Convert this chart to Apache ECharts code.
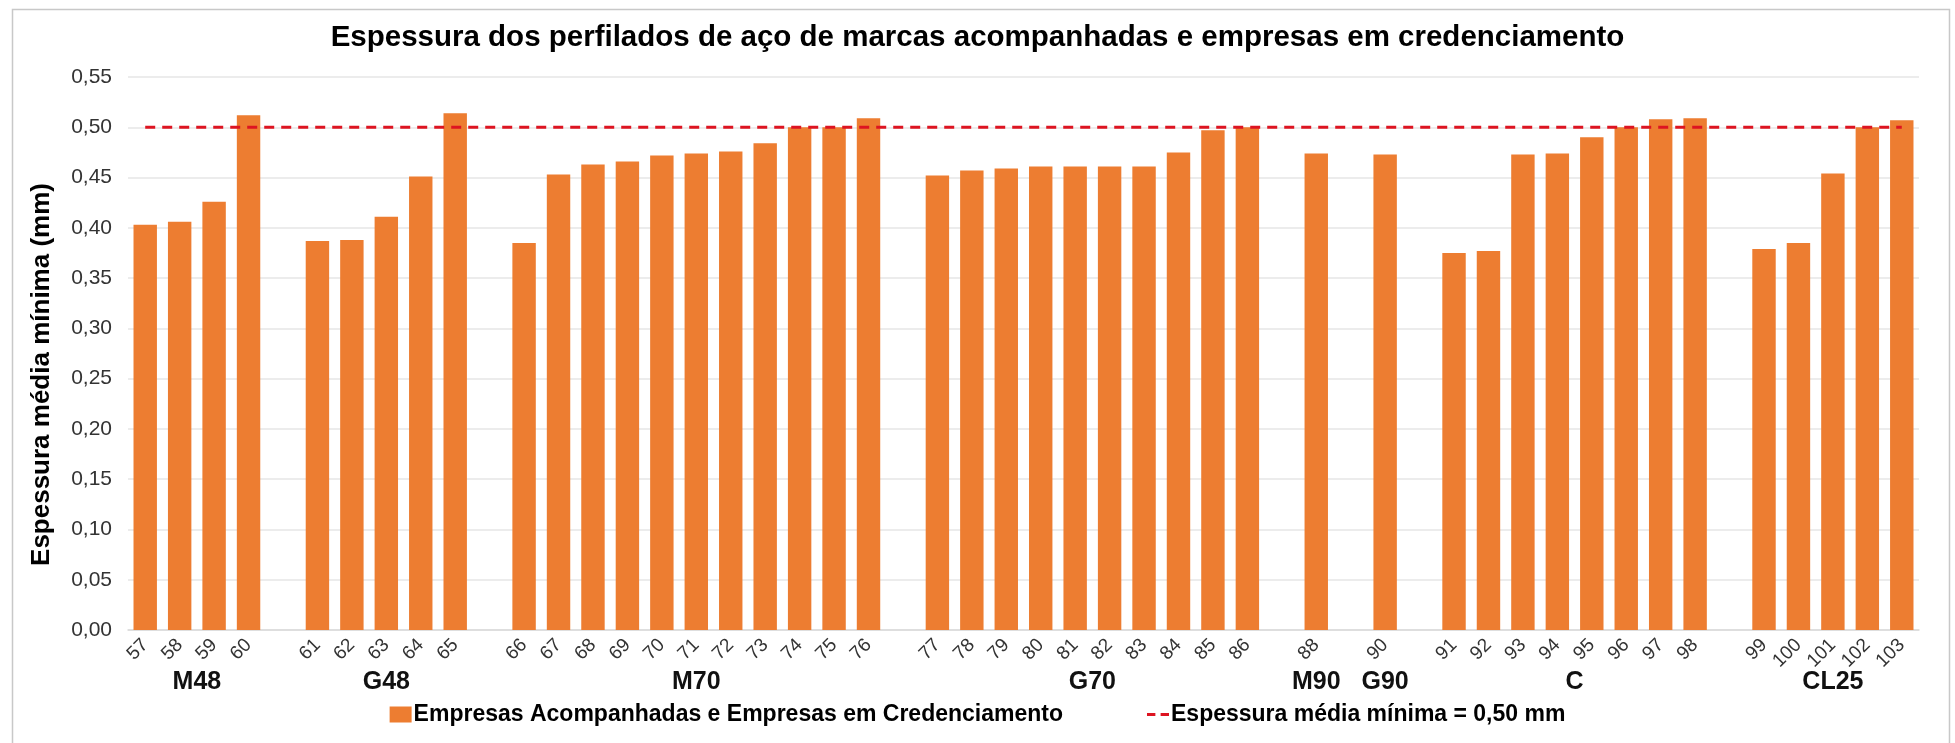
<!DOCTYPE html>
<html>
<head>
<meta charset="utf-8">
<script src="https://cdn.jsdelivr.net/npm/echarts@6/dist/echarts.min.js"></script>
<style>
html,body{margin:0;padding:0;background:#fff;}
#chart{width:1955px;height:743px;}
</style>
</head>
<body>
<div id="chart"></div>
<script>
// ---- Data ----
const titleText = 'Espessura dos perfilados de aço de marcas acompanhadas e empresas em credenciamento';
const groupNames = ['M48', 'G48', 'M70', 'G70', 'M90', 'G90', 'C', 'CL25'];
const sampleIds = [
  ['57', '58', '59', '60'],
  ['61', '62', '63', '64', '65'],
  ['66', '67', '68', '69', '70', '71', '72', '73', '74', '75', '76'],
  ['77', '78', '79', '80', '81', '82', '83', '84', '85', '86'],
  ['88'],
  ['90'],
  ['91', '92', '93', '94', '95', '96', '97', '98'],
  ['99', '100', '101', '102', '103']
];
const thicknessValues = [
  [0.403, 0.406, 0.426, 0.512],
  [0.387, 0.388, 0.411, 0.451, 0.514],
  [0.385, 0.453, 0.463, 0.466, 0.472, 0.474, 0.476, 0.484, 0.500, 0.500, 0.509],
  [0.452, 0.457, 0.459, 0.461, 0.461, 0.461, 0.461, 0.475, 0.497, 0.500],
  [0.474],
  [0.473],
  [0.375, 0.377, 0.473, 0.474, 0.490, 0.500, 0.508, 0.509],
  [0.379, 0.385, 0.454, 0.500, 0.507]
];
const minimumThickness = 0.50;
const yTicks = [0, 0.05, 0.10, 0.15, 0.20, 0.25, 0.30, 0.35, 0.40, 0.45, 0.50, 0.55];
const barSeriesName = 'Empresas Acompanhadas e Empresas em Credenciamento';
const lineSeriesName = 'Espessura média mínima = 0,50 mm';
const yAxisName = 'Espessura média mínima (mm)';

// ---- Build axis data (one blank slot between groups) ----
const categories = [];
const barData = [];
const groupSpans = [];
groupNames.forEach(function (g, gi) {
  if (gi > 0) { categories.push(''); barData.push(null); }
  const first = categories.length;
  sampleIds[gi].forEach(function (id, k) {
    categories.push(id);
    barData.push(thicknessValues[gi][k]);
  });
  groupSpans.push([first, categories.length - 1]);
});
const lineData = categories.map(function () { return minimumThickness; });
// half-slot axis for group labels: position j <-> slot (j-1)/2
const nHalf = categories.length * 2 + 1;
const groupAxisData = new Array(nHalf).fill('');
groupSpans.forEach(function (s, gi) {
  groupAxisData[s[0] + s[1] + 1] = groupNames[gi];
});

const FONT = '"Liberation Sans", Arial, sans-serif';
const RED = '#DD1421';
const chart = echarts.init(document.getElementById('chart'), null, {renderer: 'canvas'});
chart.setOption({
  animation: false,
  backgroundColor: '#ffffff',
  textStyle: {fontFamily: FONT},
  graphic: [{
    type: 'rect', left: 10, top: 7, shape: {width: 1937, height: 760},
    style: {fill: 'none', stroke: '#c8c8c8', lineWidth: 1.5}, silent: true
  }],
  title: {
    text: titleText, left: 'center', top: 18,
    textStyle: {fontFamily: FONT, fontSize: 29.5, fontWeight: 'bold', color: '#000'}
  },
  legend: {
    bottom: 12, left: 'center', itemGap: 84, itemWidth: 22, itemHeight: 16,
    textStyle: {fontFamily: FONT, fontSize: 23, fontWeight: 'bold', color: '#000', padding: [0, 0, 0, -3]},
    data: [
      {name: barSeriesName, icon: 'rect'},
      {name: lineSeriesName, icon: 'path://M0,0h8v3h-8zM13,0h8v3h-8z', itemStyle: {color: RED}}
    ]
  },
  grid: {left: 128, right: 36, top: 77, bottom: 113},
  xAxis: [{
    type: 'category', data: categories,
    axisTick: {show: false},
    axisLine: {lineStyle: {color: '#d9d9d9', width: 1.5}},
    axisLabel: {interval: 0, rotate: 45, fontSize: 19, color: '#333', margin: 12, fontFamily: FONT}
  }, {
    type: 'category', data: groupAxisData, boundaryGap: false, position: 'bottom', offset: 32,
    axisTick: {show: false}, axisLine: {show: false},
    axisLabel: {interval: 0, fontSize: 25, fontWeight: 'bold', color: '#111', margin: 8, fontFamily: FONT}
  }],
  yAxis: {
    type: 'value', min: 0, max: 0.55, interval: 0.05,
    name: yAxisName, nameLocation: 'middle', nameGap: 73, nameRotate: 90,
    nameTextStyle: {fontFamily: FONT, fontSize: 26, fontWeight: 'bold', color: '#000', padding: [0, 42, 0, 0]},
    axisLine: {show: false}, axisTick: {show: false},
    splitLine: {lineStyle: {color: '#e6e6e6', width: 1.5}},
    axisLabel: {
      fontSize: 21, color: '#333', margin: 16, fontFamily: FONT,
      formatter: function (v) {
        const t = yTicks.find(function (x) { return Math.abs(x - v) < 1e-9; });
        return (t !== undefined ? t : v).toFixed(2).replace('.', ',');
      }
    }
  },
  series: [{
    name: barSeriesName, type: 'bar', data: barData, xAxisIndex: 0,
    barCategoryGap: '32%',
    itemStyle: {color: '#ED7D31'}
  }, {
    name: lineSeriesName, type: 'line', data: lineData, xAxisIndex: 0,
    symbol: 'none', z: 5,
    lineStyle: {color: RED, width: 3, type: [10, 7]},
    itemStyle: {color: RED}
  }]
});
</script>
</body>
</html>
